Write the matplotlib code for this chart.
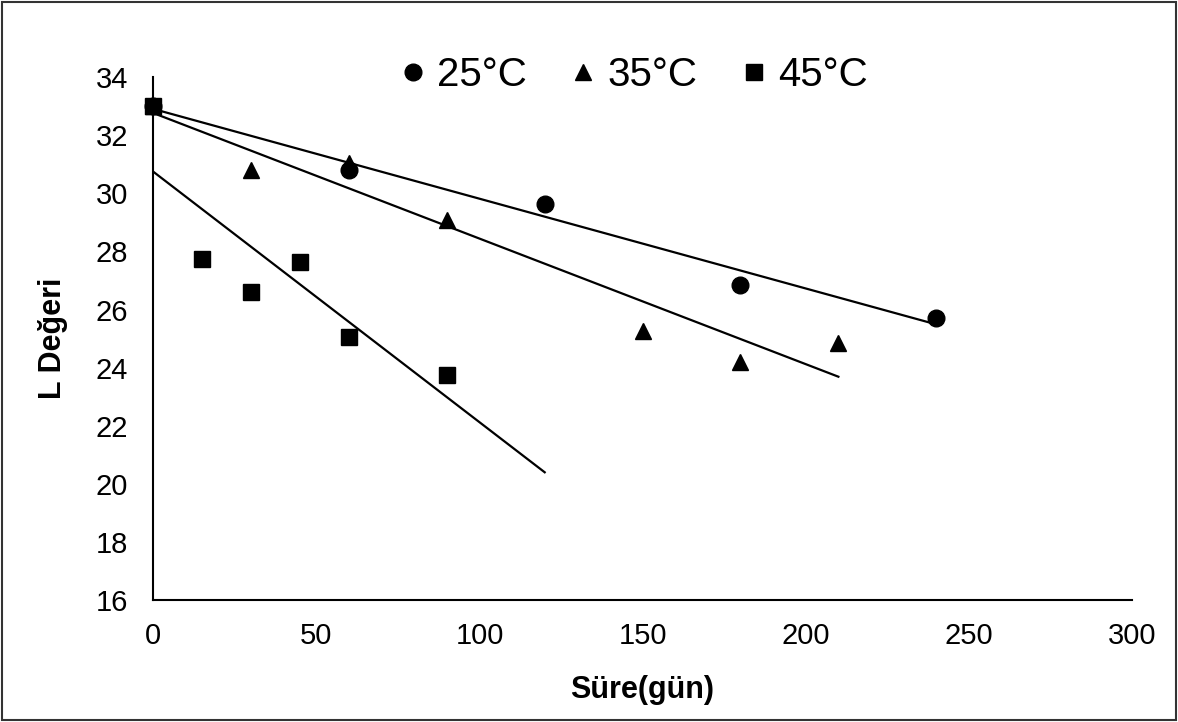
import numpy as np
import matplotlib.pyplot as plt
from matplotlib.patches import Rectangle

plt.rcParams['font.family'] = ['Liberation Sans', 'DejaVu Sans']

# storage time (days) and L values
days_25 = [0, 60, 120, 180, 240]
L_25 = [33.0, 30.8, 29.65, 26.85, 25.7]

days_35 = [0, 30, 60, 90, 150, 180, 210]
L_35 = [33.0, 30.8, 31.05, 29.1, 25.25, 24.2, 24.85]

days_45 = [0, 15, 30, 45, 60, 90]
L_45 = [33.0, 27.75, 26.6, 27.65, 25.05, 23.75]

# trendline end (the 45 C line is projected forward)
trend_end = {'25': 240, '35': 210, '45': 120}

x_ticks = [0, 50, 100, 150, 200, 250, 300]
y_ticks = list(range(16, 35, 2))

fig = plt.figure(figsize=(11.78, 7.22), dpi=100)
ax = fig.add_axes([0.130, 0.169, 0.831, 0.724])

series = [
    ('25°C', days_25, L_25, 'o', trend_end['25']),
    ('35°C', days_35, L_35, '^', trend_end['35']),
    ('45°C', days_45, L_45, 's', trend_end['45']),
]

for label, xs, ys, marker, xend in series:
    ax.plot(xs, ys, linestyle='none', marker=marker, color='black',
            markersize=12, label=label, zorder=3, clip_on=False)
    slope, icpt = np.polyfit(xs, ys, 1)
    xx = np.array([0, xend])
    ax.plot(xx, slope * xx + icpt, color='black', linewidth=1.6, zorder=2)

ax.set_xlim(0, 300)
ax.set_ylim(16, 34)
ax.set_xticks(x_ticks)
ax.set_yticks(y_ticks)
ax.tick_params(length=0, labelsize=21)
ax.tick_params(axis='x', pad=16)
ax.tick_params(axis='y', pad=18)
for s in ['top', 'right']:
    ax.spines[s].set_visible(False)
for s in ['left', 'bottom']:
    ax.spines[s].set_linewidth(1.5)

ax.set_xlabel('Süre(gün)', fontsize=22, fontweight='bold', labelpad=18)
ax.set_ylabel('L Değeri', fontsize=22, fontweight='bold', labelpad=20)

leg = ax.legend(loc='upper center', bbox_to_anchor=(0.485, 1.11), ncol=3,
                frameon=False, fontsize=29, handletextpad=0.0,
                columnspacing=0.8, markerscale=1.0, handlelength=1.2)

fig.patches.append(Rectangle((0.002, 0.003), 0.996, 0.994, transform=fig.transFigure,
                             fill=False, edgecolor='#333333', linewidth=1.5))

fig.savefig('out.png', dpi=100)
